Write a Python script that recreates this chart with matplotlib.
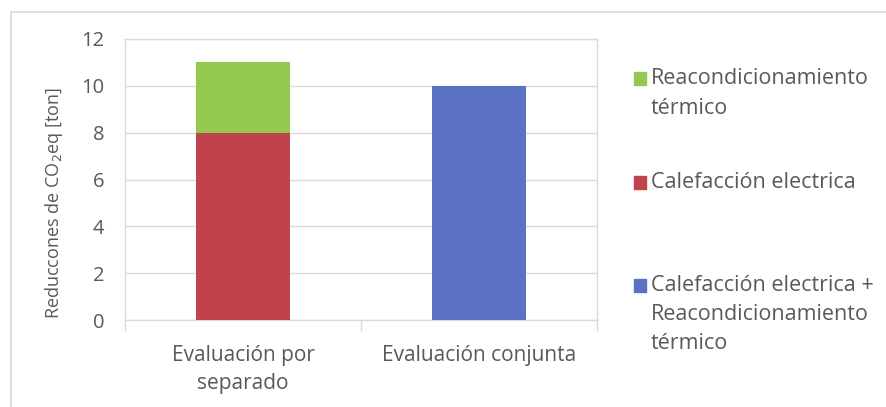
import matplotlib.pyplot as plt
from matplotlib.patches import Rectangle
from matplotlib.lines import Line2D

categories = ['Evaluación por\nseparado', 'Evaluación conjunta']
calefaccion = [8, 0]
reacondicionamiento = [3, 0]
conjunta = [0, 10]
yticks = [0, 2, 4, 6, 8, 10, 12]

legend_labels = [
    'Reacondicionamiento\ntérmico',
    'Calefacción electrica',
    'Calefacción electrica +\nReacondicionamiento\ntérmico',
]

c_green = '#92c94f'
c_red = '#c0424a'
c_blue = '#5a71c4'
c_text = '#595959'
c_grid = '#d9d9d9'

plt.rcParams['font.family'] = ['Open Sans', 'DejaVu Sans']

W, H = 886, 407
fig = plt.figure(figsize=(W / 100, H / 100), dpi=100)
ax = fig.add_axes([125 / W, 1 - 320 / H, 472 / W, 281 / H])

x = [0, 1]
ax.bar(x, calefaccion, width=0.4, color=c_red, zorder=3)
ax.bar(x, reacondicionamiento, width=0.4, bottom=calefaccion, color=c_green, zorder=3)
ax.bar(x, conjunta, width=0.4, color=c_blue, zorder=3)

ax.set_xlim(-0.5, 1.5)
ax.set_ylim(0, 12)
ax.set_yticks(yticks)
ax.set_xticks(x)
ax.set_xticklabels(categories, linespacing=1.45)
ax.set_xticks([-0.5, 0.5, 1.5], minor=True)
ax.tick_params(axis='x', which='major', length=0, pad=18, labelsize=15, labelcolor=c_text)
ax.tick_params(axis='x', which='minor', length=8, width=1, color=c_grid, direction='out')
ax.tick_params(axis='y', length=0, pad=15, labelsize=14.5, labelcolor=c_text)
ax.yaxis.grid(True, color=c_grid, linewidth=1, zorder=0)

for s in ['left', 'right', 'bottom', 'top']:
    ax.spines[s].set_color(c_grid)
    ax.spines[s].set_linewidth(1)

ax.set_ylabel('Reduccones de CO$_2$eq [ton]', fontsize=13, color=c_text)
ax.yaxis.set_label_coords(-0.128, 0.416)

# legend drawn by hand to match spacing of the original
legend_colors = [c_green, c_red, c_blue]
legend_y = [78.5, 182, 285]
for col, lab, yy in zip(legend_colors, legend_labels, legend_y):
    fig.add_artist(Rectangle((634 / W, 1 - (yy + 6.5) / H), 12 / W, 13 / H,
                             color=col, transform=fig.transFigure))
    fig.text(651 / W, 1 - (yy - 10) / H, lab, fontsize=15.5, color=c_text,
             va='top', ha='left', linespacing=1.5)

# outer chart border
fig.add_artist(Line2D([11 / W, 11 / W], [0, 1 - 12 / H], color=c_grid, lw=1.2, transform=fig.transFigure))
fig.add_artist(Line2D([11 / W, 1], [1 - 12 / H, 1 - 12 / H], color=c_grid, lw=1.2, transform=fig.transFigure))

fig.savefig('out.png', dpi=100)
